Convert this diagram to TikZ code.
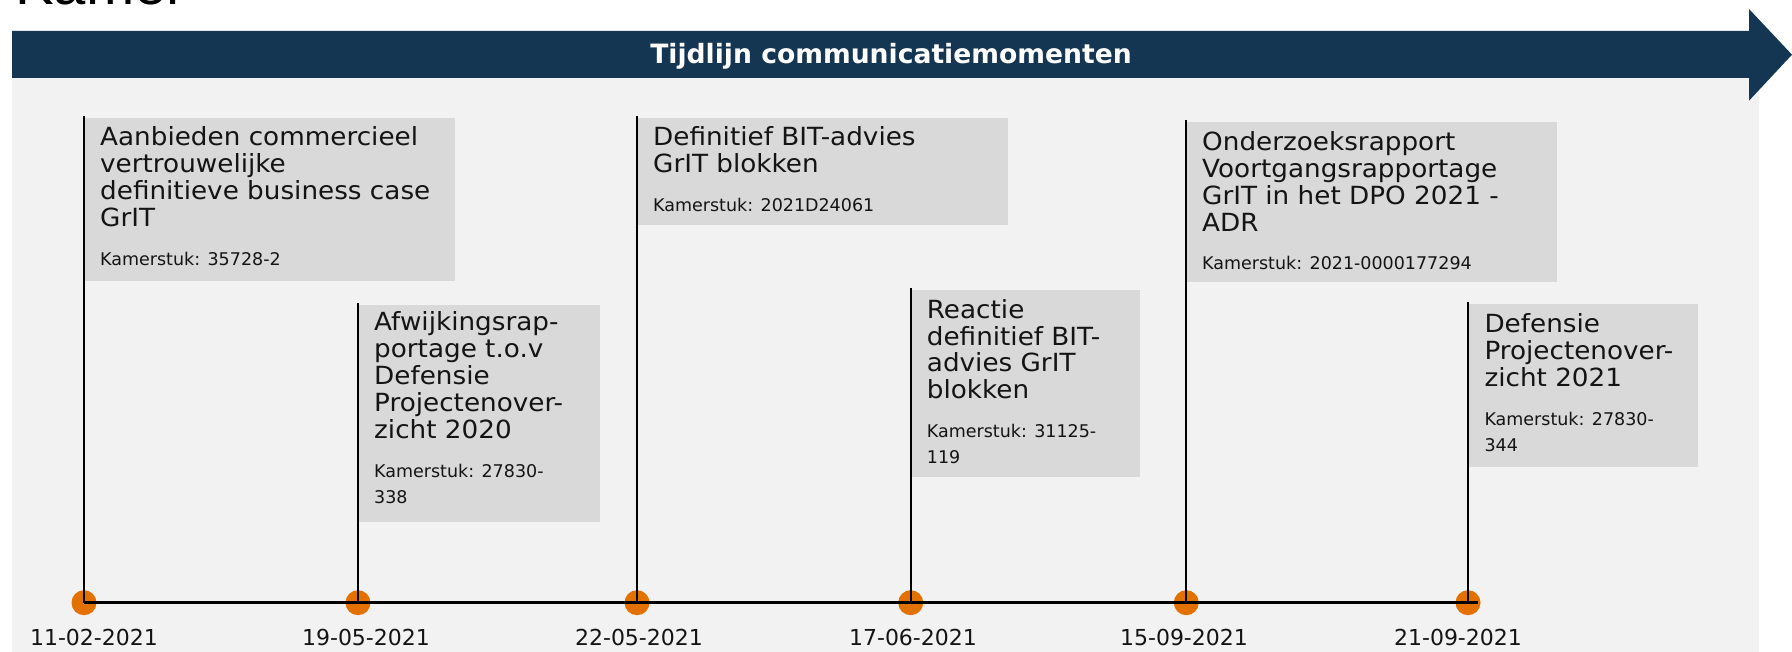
\documentclass[tikz,border=0pt]{standalone}
\usepackage{fontspec}
\setmainfont{DejaVu Sans}
\newfontfamily\kamerfont{Liberation Sans}
\newfontfamily\boxfont[FakeStretch=1.05]{DejaVu Sans}
\usetikzlibrary{calc}
\definecolor{panel}{HTML}{F2F2F2}
\definecolor{boxgray}{HTML}{D9D9D9}
\definecolor{navy}{RGB}{20,54,83}
\definecolor{marker}{RGB}{227,113,0}
\definecolor{ink}{HTML}{141414}
\begin{document}
\begin{tikzpicture}[x=1pt,y=-1pt,
  evbox/.style={fill=boxgray, inner sep=0pt, outer sep=0pt, anchor=north west},
  evtitle/.style={anchor=base west, inner sep=0pt, text=ink, font=\boxfont\fontsize{25}{26.8}\selectfont},
  evref/.style={anchor=base west, inner sep=0pt, text=ink, font=\fontsize{17.5}{26}\selectfont},
  dot/.style={circle, fill=marker, minimum size=25pt, inner sep=0pt},
  datelbl/.style={anchor=base, inner sep=0pt, text=ink, font=\fontsize{22}{26}\selectfont},
  stem/.style={line width=2pt, black},
  axis/.style={line width=2.5pt, black}]
\useasboundingbox (0,0) rectangle (1792,652);
\clip (0,0) rectangle (1792,652);
% panel and header arrow
\fill[panel] (12,31) rectangle (1759,652);
\fill[navy] (12,31) -- (1749,31) -- (1749,9) -- (1792,54.7) -- (1749,100.7) -- (1749,78) -- (12,78) -- cycle;
\node[anchor=base, inner sep=0pt, text=white, font=\bfseries\fontsize{26.6}{30}\selectfont] (hdr) at (891,64) {Tijdlijn communicatiemomenten};
\node[anchor=base west, inner sep=0pt, text=black, font=\kamerfont\fontsize{58}{60}\selectfont] (kamer) at (15,5) {Kamer};
% boxes
\node[evbox, minimum width=370pt, minimum height=163.3pt] (b1) at (85,117.7) {};
\node[evbox, minimum width=241pt, minimum height=216.7pt] (b2) at (359,305) {};
\node[evbox, minimum width=370pt, minimum height=107.3pt] (b3) at (638,117.7) {};
\node[evbox, minimum width=228.3pt, minimum height=186.7pt] (b4) at (911.7,290) {};
\node[evbox, minimum width=369.7pt, minimum height=159.4pt] (b5) at (1187.3,122.3) {};
\node[evbox, minimum width=228.7pt, minimum height=162.7pt] (b6) at (1469,304) {};
% markers
\node[dot] (m1) at (84,602.7) {};
\node[dot] (m2) at (358,602.7) {};
\node[dot] (m3) at (637,602.7) {};
\node[dot] (m4) at (910.7,602.7) {};
\node[dot] (m5) at (1186.3,602.7) {};
\node[dot] (m6) at (1468,602.7) {};
\coordinate (tend) at (1478,602.7);
% axis and stems
\draw[axis] (m1.center) -- (m2.center) -- (m3.center) -- (m4.center) -- (m5.center) -- (m6.center) -- (tend);
\draw[stem] (m1.center) -- ($(b1.north west)+(-1,-2)$);
\draw[stem] (m2.center) -- ($(b2.north west)+(-1,-2)$);
\draw[stem] (m3.center) -- ($(b3.north west)+(-1,-2)$);
\draw[stem] (m4.center) -- ($(b4.north west)+(-1,-2)$);
\draw[stem] (m5.center) -- ($(b5.north west)+(-1,-2)$);
\draw[stem] (m6.center) -- ($(b6.north west)+(-1,-2)$);
% texts
\node[evtitle] (t1) at (100,145.7) {\parbox[t]{360pt}{Aanbieden commercieel\\vertrouwelijke\\definitieve business case\\GrIT}};
\node[evref] (k1) at (100,265.3) {\parbox[t]{360pt}{Kamerstuk: 35728-2}};
\node[evtitle] (t2) at (374,331) {\parbox[t]{300pt}{Afwijkingsrap-\\portage t.o.v\\Defensie\\Projectenover-\\zicht 2020}};
\node[evref] (k2) at (374,477.2) {\parbox[t]{300pt}{Kamerstuk: 27830-\\338}};
\node[evtitle] (t3) at (653,145.7) {\parbox[t]{360pt}{Definitief BIT-advies\\GrIT blokken}};
\node[evref] (k3) at (653,211.5) {\parbox[t]{360pt}{Kamerstuk: 2021D24061}};
\node[evtitle] (t4) at (926.7,318.3) {\parbox[t]{300pt}{Reactie\\definitief BIT-\\advies GrIT\\blokken}};
\node[evref] (k4) at (926.7,437.7) {\parbox[t]{300pt}{Kamerstuk: 31125-\\119}};
\node[evtitle] (t5) at (1202,151) {\parbox[t]{360pt}{Onderzoeksrapport\\Voortgangsrapportage\\GrIT in het DPO 2021 -\\ADR}};
\node[evref] (k5) at (1202,269.5) {\parbox[t]{360pt}{Kamerstuk: 2021-0000177294}};
\node[evtitle] (t6) at (1484.3,332.7) {\parbox[t]{300pt}{Defensie\\Projectenover-\\zicht 2021}};
\node[evref] (k6) at (1484.3,425.3) {\parbox[t]{300pt}{Kamerstuk: 27830-\\344}};
% dates (evenly spaced axis labels)
\node[datelbl] (d1) at (94,645) {11-02-2021};
\node[datelbl] (d2) at (366,645) {19-05-2021};
\node[datelbl] (d3) at (639,645) {22-05-2021};
\node[datelbl] (d4) at (913,645) {17-06-2021};
\node[datelbl] (d5) at (1184,645) {15-09-2021};
\node[datelbl] (d6) at (1458,645) {21-09-2021};
\end{tikzpicture}
\end{document}
